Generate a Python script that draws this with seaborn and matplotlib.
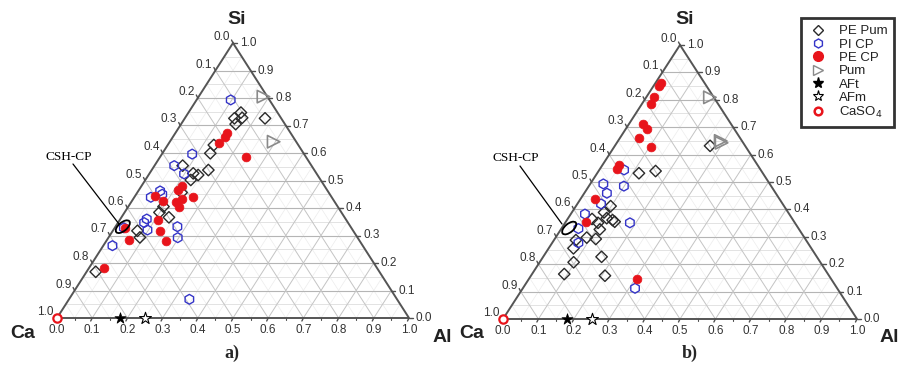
import numpy as np
import pandas as pd
import matplotlib
matplotlib.use("Agg")
import matplotlib.pyplot as plt
import seaborn as sns
from matplotlib.lines import Line2D
from matplotlib.patches import Ellipse
from matplotlib.transforms import ScaledTranslation

# ---------------- data (ternary fractions: Al, Si; Ca = 1 - Al - Si) ----------------
tick_values = [0.0, 0.1, 0.2, 0.3, 0.4, 0.5, 0.6, 0.7, 0.8, 0.9, 1.0]
tick_labels = ["0.0", "0.1", "0.2", "0.3", "0.4", "0.5", "0.6", "0.7", "0.8", "0.9", "1.0"]
series_names = ["PE Pum", "PI CP", "PE CP", "Pum", "AFt", "AFm", "CaSO$_4$"]
panel_labels = ["a)", "b)"]

# panel a
pe_pum_a_al = [0.149, 0.141, 0.162, 0.155, 0.228, 0.131, 0.136, 0.080, 0.124, 0.141,
               0.161, 0.129, 0.126, 0.099, 0.100, 0.135, 0.070, 0.089, 0.026]
pe_pum_a_si = [0.747, 0.726, 0.728, 0.705, 0.726, 0.629, 0.599, 0.554, 0.526, 0.520,
               0.538, 0.502, 0.456, 0.384, 0.405, 0.366, 0.317, 0.293, 0.168]
pi_cp_a_al = [0.097, 0.086, 0.056, 0.099, 0.062, 0.074, 0.047, 0.075, 0.074, 0.097,
              0.176, 0.197, 0.026, 0.026, 0.342]
pi_cp_a_si = [0.793, 0.596, 0.554, 0.524, 0.462, 0.450, 0.439, 0.360, 0.347, 0.320,
              0.332, 0.292, 0.328, 0.263, 0.068]
pe_cp_a_al = [0.146, 0.148, 0.141, 0.243, 0.116, 0.112, 0.165, 0.056, 0.090, 0.128,
              0.140, 0.146, 0.108, 0.135, 0.168, 0.063, 0.029, 0.044]
pe_cp_a_si = [0.672, 0.659, 0.637, 0.587, 0.481, 0.465, 0.441, 0.444, 0.424, 0.421,
              0.432, 0.403, 0.356, 0.316, 0.281, 0.284, 0.328, 0.181]
pum_a_al = [0.184, 0.295]
pum_a_si = [0.805, 0.641]

# panel b
pe_pum_b_al = [0.118, 0.161, 0.269, 0.098, 0.091, 0.129, 0.093, 0.069, 0.109, 0.110,
               0.116, 0.088, 0.062, 0.070, 0.165, 0.096, 0.091, 0.209, 0.138]
pe_pum_b_si = [0.532, 0.540, 0.632, 0.412, 0.389, 0.361, 0.351, 0.365, 0.368, 0.327,
               0.292, 0.297, 0.288, 0.258, 0.227, 0.207, 0.164, 0.158, 0.355]
pi_cp_b_al = [0.070, 0.037, 0.099, 0.064, 0.067, 0.040, 0.183, 0.048, 0.074, 0.317]
pi_cp_b_si = [0.544, 0.493, 0.485, 0.459, 0.420, 0.383, 0.351, 0.330, 0.278, 0.112]
pe_cp_b_al = [0.014, 0.017, 0.022, 0.025, 0.040, 0.060, 0.053, 0.105, 0.047, 0.048,
              0.041, 0.058, 0.306]
pe_cp_b_si = [0.862, 0.850, 0.809, 0.785, 0.711, 0.692, 0.662, 0.627, 0.562, 0.546,
              0.438, 0.355, 0.145]
pum_b_al = [0.180, 0.296, 0.290]
pum_b_si = [0.809, 0.643, 0.650]

# reference phases (on the Ca-Al edge)
aft_al, aft_si = [0.18], [0.0]
afm_al, afm_si = [0.25], [0.0]
caso4_al, caso4_si = [0.0], [0.0]

# CSH-CP region centre (Al, Si)
csh_al, csh_si = 0.021, 0.332

# ---------------- style ----------------
sns.set_style("white")
plt.rcParams["font.family"] = ["Liberation Sans", "DejaVu Sans"]

FW, FH = 899, 366
fig = plt.figure(figsize=(FW / 100, FH / 100), dpi=100)

BLUE = "#3434c8"
RED = "#e8141b"
DIAM = "#2a2a2a"
GRAYT = "#8a8a8a"
TXT = "#333333"


def tern(al, si):
    al = np.asarray(al, float)
    si = np.asarray(si, float)
    return al + si / 2.0, si


def draw_panel(ax, W, H, pe_pum, pi_cp, pe_cp, pum):
    ax.set_xlim(0, 1)
    ax.set_ylim(0, 1)
    ax.axis("off")
    px = lambda d: d / W
    py = lambda d: d / H

    # minor grid 0.05
    for v in np.arange(0.05, 1.0, 0.1):
        ax.plot([v / 2, 1 - v / 2], [v, v], color="#dedede", lw=0.6, zorder=0)
        ax.plot([v, v + (1 - v) / 2], [0, 1 - v], color="#ececec", lw=0.5, zorder=0)
        ax.plot([1 - v, (1 - v) / 2], [0, 1 - v], color="#ececec", lw=0.5, zorder=0)
    # major grid 0.1
    for v in np.arange(0.1, 0.95, 0.1):
        ax.plot([v / 2, 1 - v / 2], [v, v], color="#b5b5b5", lw=0.8, zorder=0.5)
        ax.plot([v, v + (1 - v) / 2], [0, 1 - v], color="#c4c4c4", lw=0.7, zorder=0.5)
        ax.plot([1 - v, (1 - v) / 2], [0, 1 - v], color="#c4c4c4", lw=0.7, zorder=0.5)
    # triangle edges
    ax.plot([0, 1, 0.5, 0], [0, 0, 1, 0], color="#555555", lw=1.4, zorder=1,
            clip_on=False, solid_joinstyle="miter")

    # ticks + labels
    for v, lab in zip(tick_values, tick_labels):
        # bottom: Al
        x0, y0 = v, 0.0
        ax.plot([x0, x0 - px(1.5)], [y0, y0 - py(3)], color="#505050", lw=1, clip_on=False)
        ax.annotate(lab, (x0, y0), xytext=(0, -12), textcoords="offset pixels",
                    ha="center", va="center", fontsize=8.5, color=TXT)
        # right: Si
        x0, y0 = 1 - v / 2, v
        ax.plot([x0, x0 + px(4)], [y0, y0], color="#505050", lw=1, clip_on=False)
        ax.annotate(lab, (x0, y0), xytext=(7, 0), textcoords="offset pixels",
                    ha="left", va="center", fontsize=8.5, color=TXT)
        # left: Ca
        si = 1 - v
        x0, y0 = si / 2, si
        ax.plot([x0, x0 - px(1.5)], [y0, y0 + py(3)], color="#505050", lw=1, clip_on=False)
        ax.annotate(lab, (x0, y0), xytext=(-3, 6), textcoords="offset pixels",
                    ha="right", va="center", fontsize=8.5, color=TXT)
    # minor ticks on bottom
    for v in np.arange(0.05, 1.0, 0.1):
        ax.plot([v, v], [0, -py(2)], color="#505050", lw=0.8, clip_on=False)

    # points
    x, y = tern(*pe_pum)
    sns.scatterplot(x=x, y=y, ax=ax, marker="D", s=34, color="none", edgecolor=DIAM,
                    linewidth=1.0, zorder=3, clip_on=False)
    x, y = tern(*pi_cp)
    sns.scatterplot(x=x, y=y, ax=ax, marker="h", s=50, color="none", edgecolor=BLUE,
                    linewidth=1.0, zorder=3, clip_on=False)
    x, y = tern(*pe_cp)
    sns.scatterplot(x=x, y=y, ax=ax, marker="o", s=40, color=RED, edgecolor=RED,
                    linewidth=0.5, zorder=4, clip_on=False)
    x, y = tern(*pum)
    sns.scatterplot(x=x, y=y, ax=ax, marker=">", s=80, color="none", edgecolor=GRAYT,
                    linewidth=1.2, zorder=3, clip_on=False)
    x, y = tern(aft_al, aft_si)
    sns.scatterplot(x=x, y=y, ax=ax, marker="*", s=70, color="black", edgecolor="black",
                    linewidth=0.5, zorder=5, clip_on=False)
    x, y = tern(afm_al, afm_si)
    sns.scatterplot(x=x, y=y, ax=ax, marker="*", s=80, color="white", edgecolor="black",
                    linewidth=0.8, zorder=5, clip_on=False)
    x, y = tern(caso4_al, caso4_si)
    sns.scatterplot(x=x, y=y, ax=ax, marker="o", s=36, color="white", edgecolor=RED,
                    linewidth=1.6, zorder=5, clip_on=False)

    # CSH-CP ellipse
    cx, cy = tern(csh_al, csh_si)
    trans = fig.dpi_scale_trans + ScaledTranslation(float(cx), float(cy), ax.transData)
    ax.add_patch(Ellipse((0, 0), 0.17, 0.085, angle=40, transform=trans, fill=False,
                         ec="black", lw=1.3, zorder=6, clip_on=False))


ax_a = fig.add_axes([57 / FW, 48 / FH, 352 / FW, 275 / FH])
ax_b = fig.add_axes([503 / FW, 47 / FH, 354 / FW, 274 / FH])

draw_panel(ax_a, 352, 275, (pe_pum_a_al, pe_pum_a_si), (pi_cp_a_al, pi_cp_a_si),
           (pe_cp_a_al, pe_cp_a_si), (pum_a_al, pum_a_si))
draw_panel(ax_b, 354, 274, (pe_pum_b_al, pe_pum_b_si), (pi_cp_b_al, pi_cp_b_si),
           (pe_cp_b_al, pe_cp_b_si), (pum_b_al, pum_b_si))


def figpt(x, y):
    return x / FW, 1 - y / FH


# CSH-CP annotations (figure pixel positions of text and leader line)
for (tx, ty), (l0, l1) in [((69, 157), ((73, 164), (119, 224))),
                          ((516, 158), ((520, 166), (562, 224)))]:
    fig.text(*figpt(tx, ty), "CSH-CP", ha="center", va="center", fontsize=9.5,
             family=["Liberation Serif", "DejaVu Serif"], color="black")
    fig.add_artist(Line2D([l0[0] / FW, l1[0] / FW], [1 - l0[1] / FH, 1 - l1[1] / FH],
                          color="black", lw=0.9))

# vertex labels
for (sx, cax, alx) in [(237, 23, 433), (685, 472, 880)]:
    fig.text(*figpt(sx, 19), "Si", ha="center", va="center", fontsize=14,
             fontweight="bold", color="#222222")
    fig.text(*figpt(cax, 333), "Ca", ha="center", va="center", fontsize=14,
             fontweight="bold", color="#222222")
    fig.text(*figpt(alx, 338), "Al", ha="left", va="center", fontsize=14,
             fontweight="bold", color="#222222")

# panel labels
for (lx, lab) in zip([232, 690], panel_labels):
    fig.text(*figpt(lx, 353), lab, ha="center", va="center", fontsize=13,
             fontweight="bold", family=["Liberation Serif", "DejaVu Serif"])

# legend
handles = [
    Line2D([], [], ls="none", marker="D", ms=5.5, mfc="none", mec=DIAM, mew=1.0),
    Line2D([], [], ls="none", marker="h", ms=6.5, mfc="none", mec=BLUE, mew=1.0),
    Line2D([], [], ls="none", marker="o", ms=7, mfc=RED, mec=RED),
    Line2D([], [], ls="none", marker=">", ms=7, mfc="none", mec=GRAYT, mew=1.0),
    Line2D([], [], ls="none", marker="*", ms=8, mfc="black", mec="black"),
    Line2D([], [], ls="none", marker="*", ms=8, mfc="none", mec="black", mew=0.8),
    Line2D([], [], ls="none", marker="o", ms=5.5, mfc="none", mec=RED, mew=1.8),
]
leg = fig.legend(handles, series_names, loc="upper left",
                 bbox_to_anchor=(801 / FW, 1 - 18 / FH), frameon=True, fancybox=False,
                 edgecolor="black", fontsize=9.5, borderpad=0.55, labelspacing=0.08,
                 handletextpad=0.8, handlelength=1.5, borderaxespad=0)
leg.get_frame().set_linewidth(2)
for t in leg.get_texts():
    t.set_color("#222222")

fig.savefig("out.png", dpi=100)
